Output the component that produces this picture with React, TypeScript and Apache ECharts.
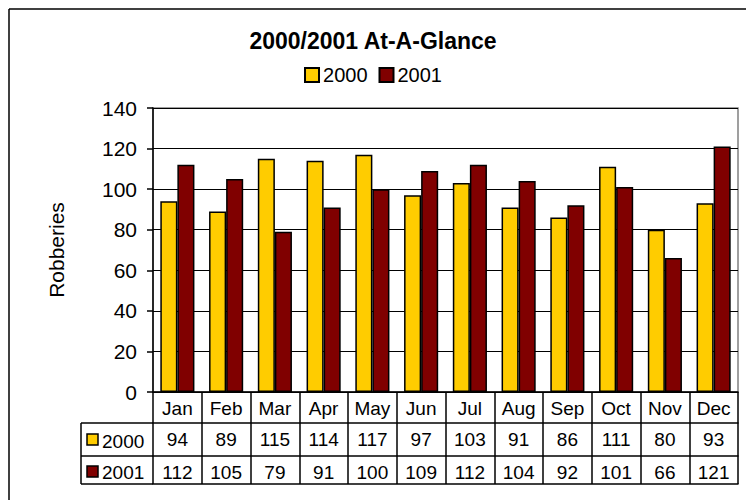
import React, { useEffect, useRef } from "react";
import * as echarts from "echarts";

const months = ["Jan", "Feb", "Mar", "Apr", "May", "Jun", "Jul", "Aug", "Sep", "Oct", "Nov", "Dec"];
const values2000 = [94, 89, 115, 114, 117, 97, 103, 91, 86, 111, 80, 93];
const values2001 = [112, 105, 79, 91, 100, 109, 112, 104, 92, 101, 66, 121];
const seriesNames = ["2000", "2001"];
const yTicks = { min: 0, max: 140, interval: 20 };

const COLORS = ["#FFCC00", "#800000"];
const FONT = "Arial, 'Liberation Sans', sans-serif";

export default function App() {
  const ref = useRef<HTMLDivElement>(null);
  useEffect(() => {
    if (!ref.current) return;
    const chart = echarts.init(ref.current, null, { renderer: "svg" });
    const gridLeft = 153;
    const gridTop = 108;
    const gridRight = 738;
    const gridBottom = 392;
    const row1 = 423;
    const row2 = 456;
    const row3 = 484;
    const tableLeft = 81;
    const lineStyle = { stroke: "#000", lineWidth: 1.5 };
    const tableAxis = (offset: number, vals: number[] | null, showLine: boolean, tickLen: number) => ({
      type: "category",
      data: months,
      position: "bottom",
      offset,
      gridIndex: 0,
      boundaryGap: true,
      axisLine: { show: showLine, lineStyle: { color: "#000", width: 1.5 } },
      axisTick: { show: tickLen > 0, length: tickLen, lineStyle: { color: "#000", width: 1.5 } },
      axisLabel: {
        show: true,
        margin: 7,
        fontSize: 19,
        color: "#000",
        fontFamily: FONT,
        formatter: vals ? (_v: string, i: number) => String(vals[i]) : undefined,
      },
      splitLine: { show: false },
    });
    chart.setOption({
      animation: false,
      backgroundColor: "#fff",
      title: {
        text: "2000/2001 At-A-Glance",
        left: "center",
        top: 24,
        textStyle: { fontSize: 23, fontWeight: "bold", color: "#000", fontFamily: FONT },
      },
      legend: {
        data: seriesNames,
        top: 60,
        left: "center",
        icon: "rect",
        itemWidth: 14,
        itemHeight: 14,
        itemGap: 11,
        textStyle: { fontSize: 20, color: "#000", fontFamily: FONT, padding: [0, 0, 0, -1] },
      },
      grid: {
        left: gridLeft,
        top: gridTop,
        right: 746 - gridRight,
        bottom: 500 - gridBottom,
        show: true,
        borderColor: "#808080",
        borderWidth: 1.5,
        backgroundColor: "#fff",
      },
      xAxis: [
        tableAxis(0, null, true, row3 - gridBottom),
        tableAxis(row1 - gridBottom, values2000, true, 0),
        tableAxis(row2 - gridBottom, values2001, true, 0),
        { ...tableAxis(row3 - gridBottom, null, true, 0), axisLabel: { show: false } },
      ],
      yAxis: {
        type: "value",
        min: yTicks.min,
        max: yTicks.max,
        interval: yTicks.interval,
        name: "Robberies",
        nameLocation: "middle",
        nameRotate: 90,
        nameGap: 86,
        nameTextStyle: { fontSize: 21, color: "#000", fontFamily: FONT },
        axisLine: { show: true, lineStyle: { color: "#000", width: 1.5 } },
        axisTick: { show: true, length: 6, lineStyle: { color: "#000", width: 1.5 } },
        axisLabel: { fontSize: 21, color: "#000", fontFamily: FONT, margin: 16 },
        splitLine: { show: true, lineStyle: { color: "#000", width: 1.2 } },
      },
      series: [
        {
          name: seriesNames[0],
          type: "bar",
          data: values2000,
          barGap: "0%",
          barCategoryGap: "30%",
          itemStyle: { color: COLORS[0], borderColor: "#000", borderWidth: 1.5 },
        },
        {
          name: seriesNames[1],
          type: "bar",
          data: values2001,
          barGap: "0%",
          barCategoryGap: "30%",
          itemStyle: { color: COLORS[1], borderColor: "#000", borderWidth: 1.5 },
        },
      ],
      graphic: [
        { type: "line", shape: { x1: 9, y1: 9, x2: 746, y2: 9 }, style: { stroke: "#000", lineWidth: 1.5 } },
        { type: "line", shape: { x1: 9, y1: 9, x2: 9, y2: 500 }, style: { stroke: "#000", lineWidth: 1.5 } },
        { type: "line", shape: { x1: tableLeft, y1: row1, x2: gridLeft, y2: row1 }, style: lineStyle },
        { type: "line", shape: { x1: tableLeft, y1: row2, x2: gridLeft, y2: row2 }, style: lineStyle },
        { type: "line", shape: { x1: tableLeft, y1: row3, x2: gridLeft, y2: row3 }, style: lineStyle },
        { type: "line", shape: { x1: tableLeft, y1: row1, x2: tableLeft, y2: row3 }, style: lineStyle },
        {
          type: "rect",
          shape: { x: 87, y: 434, width: 11, height: 11 },
          style: { fill: COLORS[0], stroke: "#000", lineWidth: 1.5 },
        },
        {
          type: "rect",
          shape: { x: 87, y: 466, width: 11, height: 11 },
          style: { fill: COLORS[1], stroke: "#000", lineWidth: 1.5 },
        },
        {
          type: "text",
          x: 102,
          y: 441,
          style: { text: seriesNames[0], fontSize: 19, fill: "#000", fontFamily: FONT, verticalAlign: "middle" },
        },
        {
          type: "text",
          x: 102,
          y: 472,
          style: { text: seriesNames[1], fontSize: 19, fill: "#000", fontFamily: FONT, verticalAlign: "middle" },
        },
      ],
    });
    return () => chart.dispose();
  }, []);
  return (
    <div
      ref={ref}
      style={{ position: "fixed", left: 0, top: 0, width: 746, height: 500 }}
    />
  );
}
